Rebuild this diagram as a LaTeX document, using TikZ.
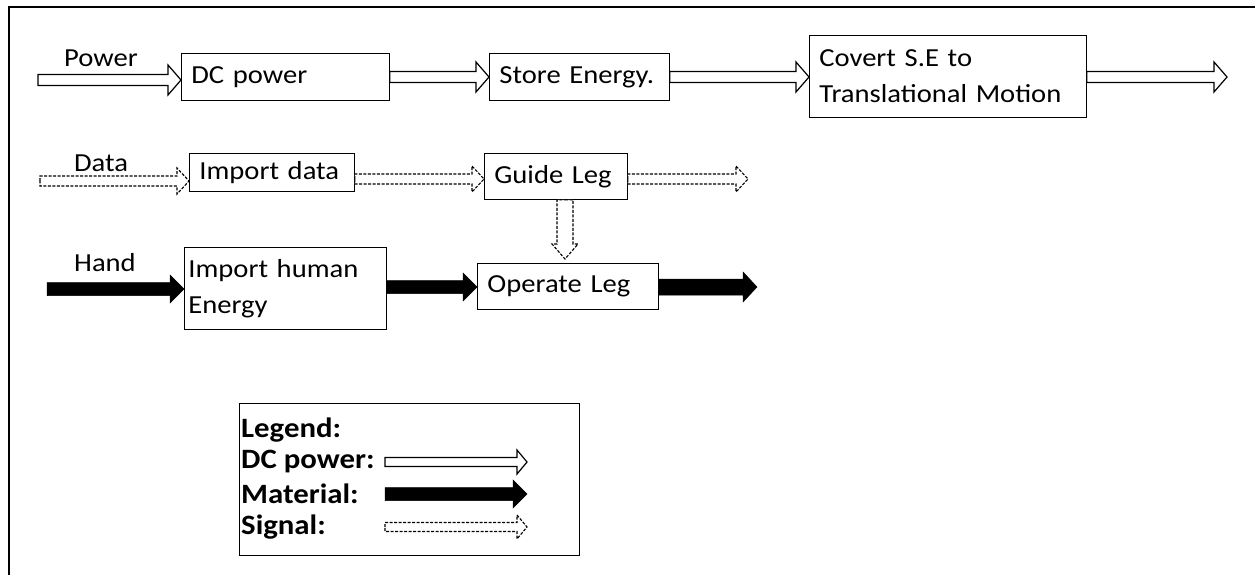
\documentclass[tikz,border=0pt]{standalone}
\usepackage{fontspec}
\setmainfont{Carlito}[FakeStretch=1.1]
\usetikzlibrary{calc}
\tikzset{
  blockbox/.style={draw, line width=0.8pt, anchor=north west, inner xsep=10pt, inner ysep=0pt, align=left, font=\fontsize{26}{36}\selectfont},
  flowlabel/.style={font=\fontsize{26}{36}\selectfont, inner sep=0pt},
  legtext/.style={font=\bfseries\fontsize{28}{36}\selectfont, anchor=west, inner sep=0pt},
  blockarrow/.style n args={3}{to path={
    -- ($(\tikztostart)!#1!90:(\tikztotarget)$)
    -- ($(\tikztotarget)!#3!(\tikztostart)!#1!90:(\tikztotarget)$)
    -- ($(\tikztotarget)!#3!(\tikztostart)!#2!90:(\tikztotarget)$)
    -- (\tikztotarget)
    -- ($(\tikztotarget)!#3!(\tikztostart)!#2!-90:(\tikztotarget)$)
    -- ($(\tikztotarget)!#3!(\tikztostart)!#1!-90:(\tikztotarget)$)
    -- ($(\tikztostart)!#1!-90:(\tikztotarget)$) -- cycle}},
  powerarrow/.style={draw, fill=white, line width=1.2pt, line join=miter, blockarrow={5.5pt}{15pt}{13pt}},
  materialarrow/.style={draw, fill=black, line width=0.5pt, blockarrow={6.5pt}{14pt}{14pt}},
  signalarrow/.style={draw, fill=white, line width=1.1pt, dash pattern=on 3pt off 1.5pt, blockarrow={5pt}{13pt}{12pt}}
}
\begin{document}
\begin{tikzpicture}[x=1pt,y=-1pt]
    \useasboundingbox (0,0) rectangle (1255,575);
    \draw[line width=2pt] (1256,7) -- (9,7) -- (9,576);
    \node[blockbox, minimum width=208, minimum height=47, text width=188] (dcbox) at (181,53) {DC power};
    \node[blockbox, minimum width=180, minimum height=47, text width=160] (storebox) at (489,53) {Store Energy.};
    \node[blockbox, minimum width=277, minimum height=82, text width=257] (covbox) at (809,35) {Covert S.E to\\Translational Motion};
    \node[blockbox, minimum width=165, minimum height=38, text width=145] (impdata) at (189,153) {Import data};
    \node[blockbox, minimum width=143, minimum height=46, text width=123] (guide) at (484,153) {Guide Leg};
    \node[blockbox, minimum width=202, minimum height=82, text width=194, inner xsep=4pt] (human) at (184,247) {Import human\\Energy};
    \node[blockbox, minimum width=181, minimum height=46, text width=161] (operate) at (477,263) {Operate Leg};
    \node[flowlabel] (pwrlabel) at (101,58) {Power};
    \node[flowlabel] (datalabel) at (101,163) {Data};
    \node[flowlabel] (handlabel) at (105,263) {Hand};
    \coordinate (pwrin) at (38,80);
    \coordinate (pwrout) at (1227,77);
    \coordinate (datain) at (40,181);
    \coordinate (dataout) at (748,179);
    \coordinate (handin) at (47,289);
    \coordinate (handout) at (757,287);
    \draw[powerarrow] (pwrin) to (pwrin -| dcbox.west);
    \draw[powerarrow] (dcbox.east |- 0,77) to (storebox.west |- 0,77);
    \draw[powerarrow] (storebox.east |- pwrout) to (covbox.west |- pwrout);
    \draw[powerarrow] (covbox.east |- pwrout) to (pwrout);
    \draw[signalarrow] (datain) to (datain -| impdata.west);
    \draw[signalarrow] (impdata.east |- dataout) to (guide.west |- dataout);
    \draw[signalarrow] (guide.east |- dataout) to (dataout);
    \draw[signalarrow, blockarrow={8pt}{13pt}{15pt}] (guide.south -| 565,0) to ($(operate.north -| 565,0)+(0,-4)$);
    \draw[materialarrow] (handin) to (handin -| human.west);
    \draw[materialarrow] (human.east |- handout) to (operate.west |- handout);
    \draw[materialarrow, blockarrow={8pt}{15pt}{14pt}] (operate.east |- handout) to (handout);
    \node[draw, line width=0.8pt, anchor=north west, minimum width=340, minimum height=152] (legendbox) at (239,403) {};
    \node[legtext] (leghead) at (241,430) {Legend:};
    \node[legtext] (legpwr) at (241,462) {DC power:};
    \node[legtext] (legmat) at (241,494) {Material:};
    \node[legtext] (legsig) at (241,527) {Signal:};
    \coordinate (pwrstart) at (385,462);
    \coordinate (matstart) at (385,494);
    \coordinate (sigstart) at (385,527);
    \draw[powerarrow, blockarrow={4.5pt}{12pt}{10pt}] (pwrstart) to ++(142,0);
    \draw[materialarrow] (matstart) to ++(142,0);
    \draw[signalarrow, blockarrow={4.5pt}{12pt}{10pt}] (sigstart) to ++(142,0);
\end{tikzpicture}
\end{document}
